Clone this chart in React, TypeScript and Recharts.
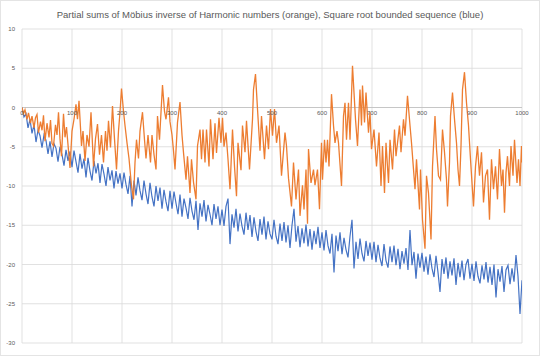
import React from 'react';
import { LineChart, Line, XAxis, YAxis, CartesianGrid, ReferenceDot, ReferenceLine } from 'recharts';

const TITLE = 'Partial sums of Möbius inverse of Harmonic numbers (orange), Square root bounded sequence (blue)';

const xTicks = [0, 100, 200, 300, 400, 500, 600, 700, 800, 900, 1000];
const yTicks = [10, 5, 0, -5, -10, -15, -20, -25, -30];

// Orange series: positions (n) and values
const orangeN = [
  0, 3, 6, 10, 13, 17, 20, 24, 27, 30, 33, 37, 40, 43, 46, 50, 54, 57, 60, 63,
  67, 70, 73, 76, 79, 83, 86, 89, 93, 96, 100, 104, 108, 111, 114, 119, 122, 126, 130, 134,
  138, 143, 147, 151, 155, 159, 163, 167, 170, 173, 177, 181, 185, 189, 193, 196, 199, 203, 206, 210,
  214, 219, 223, 226, 229, 233, 236, 241, 245, 248, 252, 257, 260, 264, 268, 271, 275, 281, 285, 288,
  293, 296, 300, 303, 306, 311, 316, 320, 323, 328, 331, 336, 339, 343, 348, 351, 356, 359, 362, 366,
  369, 374, 377, 382, 386, 389, 394, 398, 401, 404, 408, 412, 416, 421, 425, 429, 432, 438, 441, 446,
  449, 455, 461, 463, 467, 471, 476, 479, 485, 489, 493, 497, 501, 505, 509, 514, 519, 526, 529, 533,
  539, 543, 548, 553, 556, 561, 564, 568, 571, 573, 578, 583, 586, 591, 595, 599, 601, 605, 608, 611,
  614, 619, 623, 626, 630, 633, 639, 643, 646, 649, 653, 656, 661, 667, 671, 676, 679, 681, 685, 688,
  693, 696, 699, 704, 709, 714, 718, 721, 725, 728, 733, 736, 741, 745, 748, 755, 758, 763, 766, 771,
  776, 779, 786, 789, 795, 797, 801, 806, 809, 813, 818, 821, 826, 829, 833, 837, 841, 845, 849, 851,
  855, 857, 861, 865, 869, 872, 875, 878, 881, 885, 889, 893, 897, 903, 907, 911, 915, 919, 923, 927,
  931, 935, 939, 943, 947, 951, 955, 959, 962, 965, 968, 971, 975, 978, 982, 985, 990, 993, 996, 999,
  1000,
];
const orangeV = [
  0, -0.8, -0.3, -1.5, -0.7, -2.0, -1.1, -2.6, -1.3, -0.9, -3.2, -1.8, -2.9, -1.0, -4.3, -2.0, -3.8, -1.6, -4.6, -4.9,
  -2.2, -3.5, -0.6, -4.0, -6.2, -0.8, -3.8, -2.5, -5.5, -7.7, -3.0, -1.5, 0.4, -1.5, 0.85, -4.9, -3.0, -6.8, -3.5, -5.0,
  -0.6, -7.5, -4.0, -2.1, -6.0, -3.5, -7.0, -3.0, -5.5, -1.7, -5.1, 0.2, -4.0, -7.9, -3.0, -0.6, 2.4, -0.5, -2.3, -4.5,
  -6.5, -10.0, -11.7, -7.0, -4.1, -6.5, -3.0, -0.6, -4.1, -6.5, -3.5, -7.0, -3.5, -6.0, -7.9, -1.1, -4.1, 2.85, -0.5, -1.5,
  1.3, -1.8, -3.5, -5.5, -7.9, -1.9, 0.7, -3.5, -5.75, -9.2, -6.2, -10.9, -6.6, -9.5, -11.7, -4.9, -2.8, -6.6, -2.8, -7.0,
  -2.8, -7.5, -1.5, -6.6, -2.0, -5.8, -1.3, -4.5, -1.3, -5.0, -3.2, -6.6, -10.4, -2.8, -7.5, -11.3, -4.5, -8.0, -2.3, -5.7,
  -1.7, -7.9, -1.5, 2.3, 4.25, -0.2, -5.5, -1.1, -6.6, -2.3, -5.3, -0.2, -3.6, -0.2, -4.5, -2.3, -8.7, -3.2, -4.9, -9.0,
  -12.6, -7.0, -11.7, -7.9, -13.8, -9.9, -13.0, -7.9, -14.8, -5.3, -9.6, -7.9, -9.9, -7.9, -12.97, -4.5, -9.2, -4.1, -7.0, -4.1,
  -7.5, 1.7, -2.3, -4.5, -3.0, -4.5, -10.0, -1.1, 0.6, -4.1, 0.6, -4.1, 5.3, -1.5, -4.9, 2.3, -2.3, 2.8, -1.9, 1.9,
  -3.2, -0.6, -5.3, -2.8, -7.5, -3.2, -10.0, -4.9, -10.9, -4.5, -9.6, -4.1, -7.9, -2.8, -6.2, -2.3, -5.7, -1.5, -3.6, 1.5,
  -2.3, -4.5, -10.4, -6.6, -13.0, -7.9, -14.3, -18.0, -8.7, -10.9, -16.8, -7.5, -1.1, -5.3, -8.7, -9.2, -2.8, -5.7, -9.2, -12.6,
  -7.0, -1.1, 1.9, -1.5, -4.5, -7.9, -10.0, -4.9, 2.3, 4.5, 0.6, -2.3, -6.6, -12.6, -7.5, -4.9, -8.7, -5.7, -12.1, -8.7,
  -7.9, -14.3, -6.6, -10.4, -7.5, -11.7, -5.3, -10.0, -7.9, -13.4, -8.3, -6.2, -10.0, -4.9, -8.7, -4.1, -9.6, -6.6, -10.0, -4.9,
  -7.0,
];

const blueStep = 4;
const blueV = [
  0, -1.2, -0.8, -2.6, -1.5, -3.3, -2.2, -4.4, -2.9, -3.6, -5.1, -3.5, -4.2, -5.9, -4.3, -6.3, -4.6, -5.2, -6.9, -5.0, -6.0, -7.4, -5.4, -6.8, -5.6,
  -7.6, -5.5, -6.9, -8.3, -5.9, -7.8, -6.5, -8.9, -6.4, -8.1, -9.3, -6.8, -8.4, -7.1, -9.6, -7.2, -8.5, -10.0, -7.6, -9.3, -8.0, -10.3, -8.1, -9.7, -8.4,
  -10.3, -8.3, -9.8, -11.0, -8.7, -12.6, -9.3, -11.2, -8.9, -10.6, -11.8, -9.3, -11.0, -12.3, -9.6, -11.4, -12.6, -10.0, -11.9, -10.2, -12.9, -10.5, -12.0, -13.2, -10.6,
  -12.9, -10.7, -12.2, -13.6, -11.1, -13.9, -11.6, -12.8, -14.2, -11.5, -13.2, -14.3, -11.9, -15.6, -12.2, -13.9, -11.8, -14.5, -12.4, -13.6, -15.0, -12.3, -14.2, -12.6, -15.0,
  -13.0, -15.1, -12.6, -11.6, -17.4, -13.6, -15.3, -12.9, -15.8, -13.5, -15.1, -16.2, -13.4, -15.6, -13.7, -16.5, -14.0, -15.8, -17.0, -14.2, -16.2, -13.9, -16.8, -14.5, -16.1,
  -16.8, -14.3, -16.4, -17.4, -14.8, -17.0, -14.6, -17.2, -15.0, -17.9, -15.0, -12.9, -17.1, -15.1, -17.8, -15.4, -17.3, -14.9, -17.7, -15.5, -18.1, -15.7, -17.4, -15.2, -17.9,
  -15.9, -18.2, -15.6, -17.6, -18.6, -16.1, -21.0, -16.3, -18.3, -15.9, -18.7, -16.6, -18.1, -19.1, -16.4, -14.3, -20.5, -17.1, -19.3, -16.7, -18.6, -19.6, -17.0, -18.9, -17.2,
  -19.4, -17.1, -19.7, -17.5, -19.2, -20.2, -17.4, -19.5, -20.4, -17.7, -19.7, -17.6, -20.1, -18.0, -20.6, -18.3, -19.9, -17.9, -20.7, -15.6, -20.1, -18.4, -21.8, -18.6, -20.4,
  -18.5, -20.9, -19.0, -21.3, -18.7, -20.5, -21.6, -18.9, -21.0, -23.5, -19.3, -21.2, -19.1, -21.8, -19.6, -21.4, -19.2, -22.6, -19.8, -21.6, -19.5, -22.0, -20.0, -19.3, -21.8,
  -19.9, -22.1, -19.6, -21.5, -22.4, -20.1, -21.9, -19.7, -22.3, -20.3, -22.6, -20.0, -24.2, -20.6, -22.2, -20.2, -23.5, -20.7, -20.1, -22.5, -20.5, -22.2, -18.8, -21.5, -26.3,
  -22.0,
];

const orangeData = orangeN.map((n, i) => ({ n, v: orangeV[i] }));
const blueData = blueV.map((v, i) => ({ n: i * blueStep, v }));

const FONT = '"Liberation Sans", Arial, sans-serif';
const TEXT = '#595959';
const GRID = '#d9d9d9';

export default function App() {
  return (
    <div style={{ position: 'absolute', left: 0, top: 0, width: 540, height: 356, background: '#fff' }}>
      <div
        style={{
          position: 'absolute', left: 0, top: 9, width: 540, textAlign: 'center',
          fontFamily: FONT, fontSize: 9.5, lineHeight: '12px', color: TEXT,
        }}
      >
        {TITLE}
      </div>
      <LineChart width={540} height={356} margin={{ top: 29, right: 18, bottom: 13, left: 0 }}>
        <CartesianGrid stroke={GRID} strokeWidth={0.8} />
        <XAxis type="number" dataKey="n" domain={[0, 1000]} ticks={xTicks} hide allowDataOverflow />
        <YAxis
          type="number"
          domain={[-30, 10]}
          ticks={yTicks}
          width={22}
          axisLine={false}
          tickLine={false}
          tickSize={5}
          tickMargin={2}
          tick={{ fontSize: 6, fill: TEXT, fontFamily: FONT }}
        />
        <ReferenceLine y={0} stroke="#bfbfbf" strokeWidth={0.8} />
        {xTicks.map((t) => (
          <ReferenceDot
            key={t}
            x={t}
            y={0}
            r={0}
            fill="none"
            stroke="none"
            label={{ value: String(t), position: 'bottom', offset: 3, fontSize: 6, fill: TEXT, fontFamily: FONT }}
          />
        ))}
        <Line data={blueData} dataKey="v" type="linear" stroke="#4472C4" strokeWidth={1.2} dot={false} isAnimationActive={false} />
        <Line data={orangeData} dataKey="v" type="linear" stroke="#ED7D31" strokeWidth={1.3} dot={false} isAnimationActive={false} />
      </LineChart>
      <div style={{ position: 'absolute', left: 0, top: 0, width: 538, height: 354, border: '1px solid #e4e4e4', pointerEvents: 'none' }} />
    </div>
  );
}
